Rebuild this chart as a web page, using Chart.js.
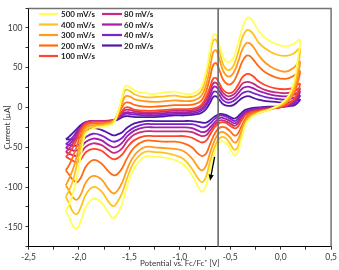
<!DOCTYPE html>
<html><head><meta charset="utf-8">
<script src="https://cdn.jsdelivr.net/npm/chart.js@4.4.0/dist/chart.umd.min.js"></script>
<style>html,body{margin:0;padding:0;background:#fff;}#wrap{width:339px;height:270px;}</style>
</head><body><div id="wrap"><canvas id="c" width="339" height="270"></canvas></div>
<script>
// Potential grids (V vs Fc/Fc+): anodic sweep (to positive) and cathodic sweep (back to negative)
const upPotential = [-2.13, -2.10, -2.06, -2.02, -1.98, -1.93, -1.85, -1.75, -1.66, -1.61, -1.57, -1.54, -1.50, -1.44, -1.35, -1.25, -1.15, -1.05, -0.95, -0.86, -0.79, -0.74, -0.70, -0.67, -0.64, -0.61, -0.57, -0.52, -0.47, -0.42, -0.38, -0.34, -0.31, -0.27, -0.22, -0.15, -0.05, 0.05, 0.13, 0.19];
const downPotential = [0.17, 0.14, 0.10, 0.05, -0.02, -0.12, -0.22, -0.30, -0.35, -0.39, -0.43, -0.46, -0.50, -0.55, -0.60, -0.65, -0.70, -0.74, -0.78, -0.82, -0.88, -0.96, -1.05, -1.15, -1.25, -1.35, -1.45, -1.52, -1.57, -1.62, -1.66, -1.71, -1.78, -1.86, -1.93, -1.98, -2.02, -2.06, -2.10];

const scanRates = ['500 mV/s', '400 mV/s', '300 mV/s', '200 mV/s', '100 mV/s', '80 mV/s', '60 mV/s', '40 mV/s', '20 mV/s'];
const colors = ['#ffff5c', '#ffc31f', '#ff9a1e', '#ff6a12', '#ff452b', '#c42d7e', '#a21fa8', '#7a24c9', '#5016a6'];

// Currents (µA), anodic sweep
const up500 = [-130, -122, -108, -88, -60, -32, -26, -24, -20, -5, 15, 27, 26, 21, 18, 17, 19, 20, 17, 18, 25, 45, 72, 90, 92, 80, 63, 57, 62, 82, 100, 112, 113, 107, 97, 87, 80, 77, 80, 85];
const up400 = [-112, -105, -92, -72, -48, -28, -24, -22, -18, -5, 12, 22, 21, 16, 13, 13, 14, 15, 13, 14, 20, 38, 65, 84, 85, 73, 54, 47, 52, 70, 88, 97, 97, 92, 82, 74, 67, 65, 68, 74];
const up300 = [-98, -90, -78, -60, -40, -25, -22, -21, -17, -7, 6, 14, 14, 10, 8, 7, 8, 9, 8, 9, 14, 28, 50, 69, 72, 62, 46, 39, 43, 58, 73, 81, 81, 76, 66, 56, 48, 45, 50, 58];
const up200 = [-79, -73, -62, -48, -33, -22, -20, -20, -17, -9, 1, 6, 6, 3, 1, 1, 2, 3, 3, 4, 8, 20, 38, 53, 56, 48, 35, 29, 32, 45, 58, 65, 65, 60, 52, 44, 38, 36, 40, 46];
const up100 = [-62, -58, -50, -40, -28, -20, -18, -18, -16, -11, -4, 0, 0, -3, -4, -4, -3, -2, -2, -1, 3, 13, 26, 36, 37, 31, 22, 18, 20, 29, 38, 42, 42, 39, 33, 28, 24, 23, 25, 30];
const up80 = [-56, -52, -45, -36, -26, -19, -17, -17, -16, -12, -6, -3, -3, -5, -6, -6, -5, -4, -4, -3, 1, 9, 21, 30, 31, 26, 18, 14, 16, 23, 30, 32, 32, 30, 26, 22, 19, 18, 20, 24];
const up60 = [-51, -47, -41, -33, -25, -19, -17, -17, -16, -13, -8, -6, -6, -7, -8, -8, -7, -6, -6, -5, -2, 5, 16, 25, 26, 21, 14, 10, 12, 18, 24, 26, 26, 24, 21, 18, 15, 14, 16, 20];
const up40 = [-46, -43, -37, -30, -24, -19, -17, -17, -16, -14, -10, -8, -8, -9, -10, -10, -9, -8, -8, -7, -4, 2, 11, 19, 20, 16, 9, 6, 8, 13, 18, 20, 20, 18, 16, 13, 11, 10, 12, 15];
const up20 = [-40, -37, -32, -27, -22, -18, -17, -17, -17, -15, -12, -11, -11, -12, -12, -12, -11, -10, -10, -9, -7, -2, 6, 13, 14, 10, 4, 2, 3, 8, 12, 14, 14, 12, 10, 8, 7, 6, 8, 10];

// Currents (µA), cathodic sweep
const down500 = [62, 36, 20, 10, 3, -3, -7, -13, -22, -40, -58, -60, -52, -44, -43, -55, -78, -98, -106, -99, -85, -72, -66, -63, -62, -62, -76, -98, -120, -134, -139, -132, -119, -115, -125, -142, -152, -149, -137];
const down400 = [52, 30, 17, 8, 2, -3, -7, -12, -20, -36, -51, -53, -46, -38, -38, -48, -68, -87, -94, -89, -77, -65, -60, -57, -56, -56, -68, -88, -107, -119, -124, -118, -105, -100, -109, -125, -134, -131, -120];
const down300 = [40, 24, 13, 6, 1, -3, -6, -10, -17, -30, -42, -44, -38, -32, -31, -40, -57, -73, -79, -75, -64, -55, -52, -51, -50, -50, -60, -77, -94, -105, -108, -102, -90, -86, -94, -109, -116, -113, -104];
const down200 = [32, 19, 11, 5, 1, -2, -5, -8, -14, -24, -34, -35, -30, -25, -25, -32, -46, -58, -61, -58, -50, -45, -43, -43, -42, -42, -50, -63, -76, -84, -85, -80, -70, -66, -74, -88, -94, -91, -84];
const down100 = [20, 12, 7, 3, 0, -2, -4, -6, -10, -17, -25, -26, -23, -19, -19, -24, -34, -42, -44, -42, -38, -36, -36, -36, -36, -36, -41, -50, -59, -64, -65, -61, -54, -52, -56, -65, -69, -67, -64];
const down80 = [16, 9, 5, 2, 0, -1, -3, -5, -8, -14, -21, -23, -20, -17, -16, -21, -29, -35, -36, -34, -31, -30, -30, -30, -30, -30, -34, -42, -51, -56, -57, -53, -47, -45, -49, -57, -61, -60, -58];
const down60 = [13, 7, 4, 2, 0, -1, -2, -4, -7, -12, -18, -20, -17, -14, -13, -18, -25, -30, -31, -29, -26, -25, -25, -25, -25, -25, -29, -36, -44, -49, -50, -47, -41, -39, -43, -50, -54, -54, -52];
const down40 = [10, 5, 3, 2, 1, 0, -1, -3, -5, -10, -15, -17, -14, -11, -10, -14, -20, -24, -25, -23, -21, -21, -21, -21, -21, -21, -25, -31, -38, -42, -43, -40, -35, -33, -37, -44, -48, -48, -47];
const down20 = [6, 3, 2, 1, 1, 1, 0, -1, -3, -7, -12, -14, -12, -9, -8, -11, -16, -19, -19, -18, -17, -17, -17, -17, -17, -17, -20, -25, -31, -34, -35, -32, -28, -26, -30, -36, -39, -40, -40];

const upSeries = [up500, up400, up300, up200, up100, up80, up60, up40, up20];
const downSeries = [down500, down400, down300, down200, down100, down80, down60, down40, down20];

// Axis ticks
const xTickLabels = [-2.5, -2.0, -1.5, -1.0, -0.5, 0.0, 0.5];
const yTickLabels = [-150, -100, -50, 0, 50, 100];

// Annotations
const markerPotential = -0.62;
const arrowFrom = { x: -0.655, y: -62 };
const arrowTo = { x: -0.70, y: -92 };

const datasets = scanRates.map((label, k) => {
  const pts = upPotential.map((x, i) => ({ x, y: upSeries[k][i] }))
    .concat(downPotential.map((x, i) => ({ x, y: downSeries[k][i] })));
  pts.push({ x: upPotential[0], y: upSeries[k][0] });
  return {
    label, data: pts, showLine: true, borderColor: colors[k], backgroundColor: colors[k],
    borderWidth: 1.8, pointRadius: 0, tension: 0.4, fill: false
  };
});

const FONT = 'Lato, "Open Sans", sans-serif';

const overlay = {
  id: 'overlay',
  afterDatasetsDraw(chart) {
    const { ctx, chartArea: a, scales: { x, y } } = chart;
    ctx.save();
    // frame top and right
    ctx.strokeStyle = '#737373'; ctx.lineWidth = 1.5;
    ctx.beginPath(); ctx.moveTo(a.left, a.top + 0.3); ctx.lineTo(a.right, a.top + 0.3); ctx.lineTo(a.right, a.bottom); ctx.stroke();
    // vertical marker
    const mx = x.getPixelForValue(markerPotential);
    ctx.strokeStyle = '#6a6a6a'; ctx.lineWidth = 1.6;
    ctx.beginPath(); ctx.moveTo(mx, a.top); ctx.lineTo(mx, a.bottom); ctx.stroke();
    // arrow
    const x1 = x.getPixelForValue(arrowFrom.x), y1 = y.getPixelForValue(arrowFrom.y);
    const x2 = x.getPixelForValue(arrowTo.x), y2 = y.getPixelForValue(arrowTo.y);
    const ang = Math.atan2(y2 - y1, x2 - x1), hl = 6, hw = 2.6;
    const bx = x2 - hl * Math.cos(ang), by = y2 - hl * Math.sin(ang);
    ctx.strokeStyle = '#000'; ctx.fillStyle = '#000'; ctx.lineWidth = 1.3;
    ctx.beginPath(); ctx.moveTo(x1, y1); ctx.lineTo(bx, by); ctx.stroke();
    ctx.beginPath(); ctx.moveTo(x2, y2);
    ctx.lineTo(bx + hw * Math.sin(ang), by - hw * Math.cos(ang));
    ctx.lineTo(bx - hw * Math.sin(ang), by + hw * Math.cos(ang));
    ctx.closePath(); ctx.fill();
    // legend
    ctx.font = 'bold 8px ' + FONT; ctx.textBaseline = 'middle'; ctx.textAlign = 'left';
    const rowY = [14, 24.5, 35, 45.5, 56];
    chart.data.datasets.forEach((ds, k) => {
      const col = k < 5 ? 0 : 1, row = k < 5 ? k : k - 5;
      const lx0 = col ? 102 : 39, lx1 = col ? 122 : 58, tx = col ? 124 : 61;
      const yy = rowY[row];
      ctx.strokeStyle = ds.borderColor; ctx.lineWidth = 2.2;
      ctx.beginPath(); ctx.moveTo(lx0, yy); ctx.lineTo(lx1, yy); ctx.stroke();
      ctx.fillStyle = '#222'; ctx.fillText(ds.label, tx, yy + 0.5);
    });
    ctx.restore();
  },
  afterDraw(chart) {
    const { ctx, chartArea: a } = chart;
    ctx.save();
    ctx.fillStyle = '#333'; ctx.font = '8px ' + FONT; ctx.textAlign = 'center'; ctx.textBaseline = 'middle';
    ctx.fillText('Potential vs. Fc/Fc\u207A [V]', (a.left + a.right) / 2, 263);
    ctx.translate(7, (a.top + a.bottom) / 2); ctx.rotate(-Math.PI / 2);
    ctx.fillText('Current [\u00B5A]', 0, 0);
    ctx.restore();
  }
};

new Chart(document.getElementById('c'), {
  type: 'scatter',
  data: { datasets },
  options: {
    responsive: false, animation: false, devicePixelRatio: 1,
    layout: { padding: { top: 1, right: 5.7, left: 0, bottom: 0 } },
    plugins: { legend: { display: false }, tooltip: { enabled: false } },
    scales: {
      x: {
        type: 'linear', min: -2.5, max: 0.5,
        afterFit(s) { s.height = 23.3; },
        border: { color: '#000', width: 1 },
        grid: { drawOnChartArea: false, drawTicks: true, tickLength: 3, color: '#333' },
        ticks: {
          stepSize: 0.25, autoSkip: false, maxRotation: 0, padding: 2, color: '#3a3a3a',
          font: { family: FONT, size: 8.5 },
          callback: (v) => xTickLabels.some(t => Math.abs(t - v) < 1e-6) ? v.toFixed(1).replace('.', ',') : ''
        }
      },
      y: {
        type: 'linear', min: -175, max: 125,
        afterFit(s) { s.width = 28.5; },
        border: { color: '#000', width: 1 },
        grid: { drawOnChartArea: false, drawTicks: true, tickLength: 3, color: '#333' },
        ticks: {
          stepSize: 25, autoSkip: false, padding: 3, color: '#3a3a3a',
          font: { family: FONT, size: 8.5 },
          callback: (v) => yTickLabels.includes(v) ? String(v) : ''
        }
      }
    }
  },
  plugins: [overlay]
});
</script></body></html>
